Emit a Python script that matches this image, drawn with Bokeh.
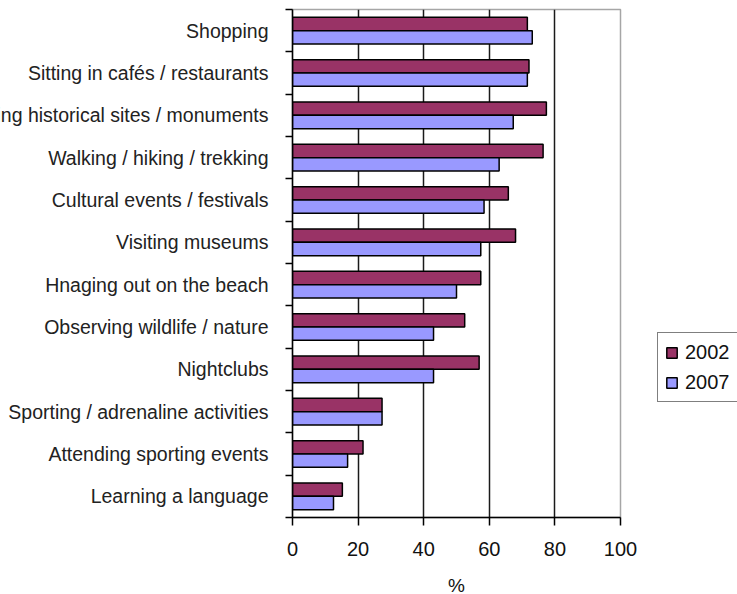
from bokeh.plotting import figure
from bokeh.models import Range1d, FixedTicker, ColumnDataSource, Legend, LegendItem
from bokeh.transform import dodge
from bokeh.embed import file_html
from bokeh.resources import INLINE

activities = [
    "Shopping",
    "Sitting in cafés / restaurants",
    "Visiting historical sites / monuments",
    "Walking / hiking / trekking",
    "Cultural events / festivals",
    "Visiting museums",
    "Hnaging out on the beach",
    "Observing wildlife / nature",
    "Nightclubs",
    "Sporting / adrenaline activities",
    "Attending sporting events",
    "Learning a language",
]
values_2002 = [71.6, 72.1, 77.4, 76.4, 65.8, 68.0, 57.4, 52.5, 56.9, 27.3, 21.5, 15.2]
values_2007 = [73.1, 71.6, 67.3, 63.0, 58.4, 57.4, 50.0, 43.0, 43.0, 27.3, 16.8, 12.5]
x_ticks = [0, 20, 40, 60, 80, 100]
series = ["2002", "2007"]
colors = ["#993366", "#9999FF"]

FONT = "Liberation Sans"
n = len(activities)
rank = [n - 1 - i for i in range(n)]
src = ColumnDataSource(dict(act=activities, rank=rank, v2002=values_2002, v2007=values_2007))

p = figure(frame_width=328, frame_height=508,
           x_range=Range1d(0, 100), y_range=Range1d(-0.5, n - 0.5),
           output_backend="svg", toolbar_location=None,
           min_border_left=337, min_border_right=117, min_border_top=9, min_border_bottom=0,
           background_fill_color="white", border_fill_color="white")
p.margin = (0, 0, 0, -45)

bar_h = 0.315
r1 = p.hbar(y=dodge('rank', bar_h / 2), left=0, right='v2002', height=bar_h,
            fill_color=colors[0], line_color="black", line_width=1.5, source=src)
r2 = p.hbar(y=dodge('rank', -bar_h / 2), left=0, right='v2007', height=bar_h,
            fill_color=colors[1], line_color="black", line_width=1.5, source=src)

# y axis
ya = p.yaxis[0]
ya.ticker = FixedTicker(ticks=rank, minor_ticks=[k - 0.5 for k in range(n + 1)])
ya.major_label_overrides = {r: a for r, a in zip(rank, activities)}
ya.major_tick_line_color = None
ya.major_tick_out = 0
ya.major_tick_in = 0
ya.minor_tick_out = 7
ya.minor_tick_in = 0
ya.minor_tick_line_color = "black"
ya.minor_tick_line_width = 1.5
ya.axis_line_color = "black"
ya.axis_line_width = 1.5
ya.major_label_standoff = 17
ya.major_label_text_font = FONT
ya.major_label_text_font_size = "19.5px"
ya.major_label_text_color = "#222222"

# x axis
xa = p.xaxis[0]
xa.ticker = FixedTicker(ticks=x_ticks)
xa.major_tick_out = 8
xa.major_tick_in = 0
xa.major_tick_line_color = "black"
xa.major_tick_line_width = 1.5
xa.minor_tick_line_color = None
xa.axis_line_color = "black"
xa.axis_line_width = 1.5
xa.major_label_standoff = 16
xa.major_label_text_font = FONT
xa.major_label_text_font_size = "20px"
xa.major_label_text_color = "#111111"
xa.axis_label = "%"
xa.axis_label_text_font = FONT
xa.axis_label_text_font_size = "19px"
xa.axis_label_text_font_style = "normal"
xa.axis_label_text_color = "#111111"
xa.axis_label_standoff = 16

# grids
p.ygrid.grid_line_color = None
p.xgrid.ticker = FixedTicker(ticks=[20, 40, 60, 80])
p.xgrid.grid_line_color = "#1a1a1a"
p.xgrid.grid_line_width = 1.5

p.outline_line_color = "#a6a6a6"
p.outline_line_width = 1.5

legend = Legend(items=[LegendItem(label=series[0], renderers=[r1]),
                       LegendItem(label=series[1], renderers=[r2])],
                location=(37, 115))
legend.border_line_color = "black"
legend.border_line_width = 1.5
legend.background_fill_color = "white"
legend.background_fill_alpha = 1
legend.label_text_font = FONT
legend.label_text_font_size = "20px"
legend.label_text_color = "#111111"
legend.glyph_width = 13
legend.glyph_height = 13
legend.label_standoff = 7
legend.label_height = 24
legend.spacing = 6
legend.padding = 7
legend.margin = 0
p.add_layout(legend, "right")

html = file_html(p, INLINE)
html = html.replace("</head>", "<style>html,body{overflow:hidden;margin:0;}</style></head>", 1)
open("out.html", "w").write(html)
